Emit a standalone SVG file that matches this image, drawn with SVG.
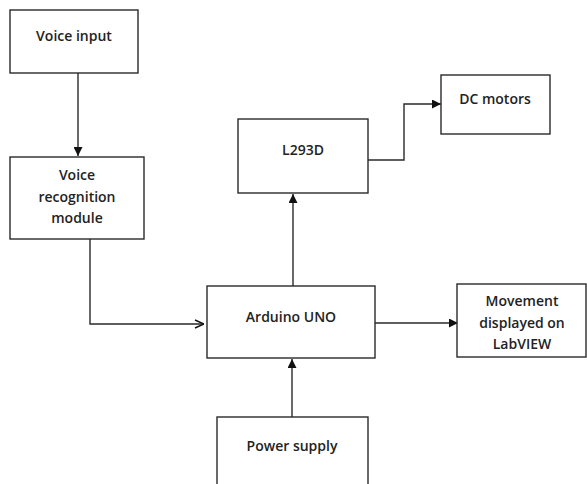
<svg xmlns="http://www.w3.org/2000/svg" width="587" height="484" viewBox="0 0 587 484">
<defs>
<style>
.box{fill:#fff;stroke:#2a2a2a;stroke-width:1.4}
.t{font-family:"Open Sans","Liberation Sans",sans-serif;font-size:14px;font-weight:600;fill:#222;text-anchor:middle}
.c{fill:none;stroke:#2a2a2a;stroke-width:1.4}
</style>
<marker id="ah" viewBox="0 0 10 10" refX="10" refY="5" markerWidth="9" markerHeight="9" markerUnits="userSpaceOnUse" orient="auto">
<path d="M0,0 L10,5 L0,10 z" fill="#111"/>
</marker>
<marker id="open" viewBox="0 0 10 10" refX="10" refY="5" markerWidth="10" markerHeight="10" markerUnits="userSpaceOnUse" orient="auto">
<path d="M1,1 L10,5 L1,9" fill="none" stroke="#111" stroke-width="1.4"/>
</marker>
</defs>
<rect width="587" height="484" fill="#fff"/>
<g id="connectors">
<line class="c" x1="78" y1="73" x2="78" y2="156" marker-end="url(#ah)"/>
<polyline class="c" points="90,239 90,324 204,324" marker-end="url(#open)"/>
<line class="c" x1="293" y1="286" x2="293" y2="194" marker-end="url(#ah)"/>
<polyline class="c" points="368,160 404,160 404,104 441,104" marker-end="url(#ah)"/>
<line class="c" x1="375" y1="323" x2="458" y2="323" marker-end="url(#ah)"/>
<line class="c" x1="292" y1="417" x2="292" y2="359" marker-end="url(#ah)"/>
</g>
<g id="voice-input">
<rect class="box" x="10" y="10" width="128" height="63"/>
<text class="t" x="74" y="41">Voice input</text>
</g>
<g id="voice-recognition">
<rect class="box" x="10" y="157" width="134" height="82"/>
<text class="t" x="77" y="180">Voice</text>
<text class="t" x="77" y="202">recognition</text>
<text class="t" x="77" y="223">module</text>
</g>
<g id="l293d">
<rect class="box" x="238" y="119" width="130" height="74"/>
<text class="t" x="303" y="155">L293D</text>
</g>
<g id="dc-motors">
<rect class="box" x="441" y="75" width="109" height="59"/>
<text class="t" x="495" y="104">DC motors</text>
</g>
<g id="arduino">
<rect class="box" x="207" y="286" width="168" height="72"/>
<text class="t" x="291" y="322">Arduino UNO</text>
</g>
<g id="movement">
<rect class="box" x="457" y="284" width="129" height="73"/>
<text class="t" x="522" y="306">Movement</text>
<text class="t" x="522" y="328">displayed on</text>
<text class="t" x="522" y="349">LabVIEW</text>
</g>
<g id="power-supply">
<rect class="box" x="217" y="417" width="151" height="80"/>
<text class="t" x="292" y="451">Power supply</text>
</g>
</svg>
